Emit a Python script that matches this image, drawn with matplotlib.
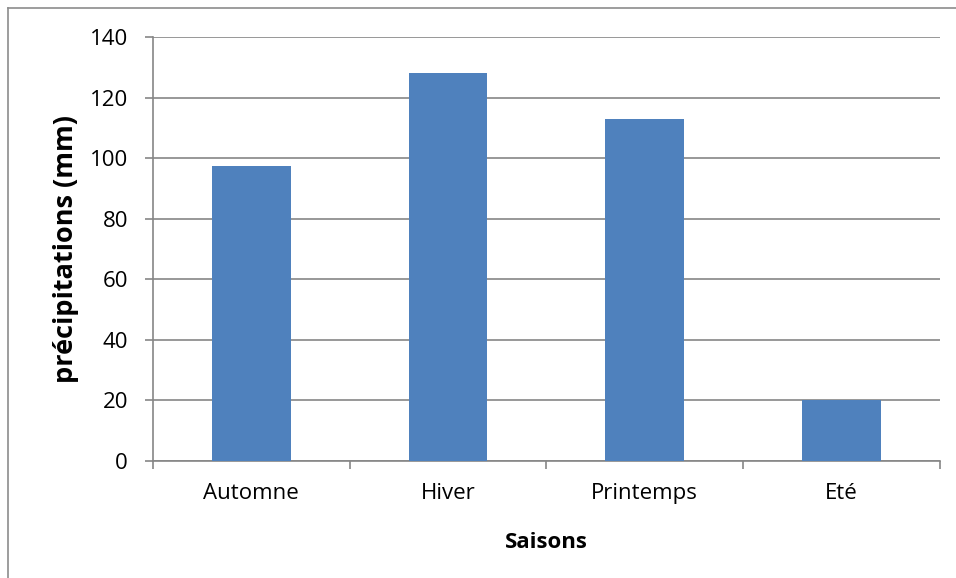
import matplotlib
matplotlib.use('Agg')
import matplotlib.pyplot as plt
import numpy as np

saisons = ['Automne', 'Hiver', 'Printemps', 'Eté']
precip = [97.5, 128, 113, 20]

bar_colour = '#4f81bd'
grid_colour = '#868686'

plt.rcParams['font.family'] = ['Open Sans', 'DejaVu Sans']

fig = plt.figure(figsize=(9.56, 5.78), dpi=100)
ax = fig.add_axes([0.16, 0.2024, 0.823, 0.7336])

x = np.arange(len(saisons))
ax.bar(x, precip, width=0.4, color=bar_colour, zorder=3)

ax.set_xlim(-0.5, len(saisons) - 0.5)
ax.set_ylim(0, 140)
ax.set_yticks(np.arange(0, 141, 20))
ax.set_xticks(x)
ax.set_xticklabels(saisons)
ax.set_xticks(np.arange(-0.5, len(saisons)), minor=True)

ax.yaxis.grid(True, color=grid_colour, linewidth=1.2, zorder=0)
for s in ['top', 'right']:
    ax.spines[s].set_visible(False)
for s in ['left', 'bottom']:
    ax.spines[s].set_color(grid_colour)
    ax.spines[s].set_linewidth(1.2)

ax.tick_params(axis='y', length=6, width=1.2, color=grid_colour, labelsize=16, pad=12)
ax.tick_params(axis='x', which='major', length=0, labelsize=16, pad=16)
ax.tick_params(axis='x', which='minor', length=6, width=1.2, color=grid_colour)

ax.set_ylabel('précipitations (mm)', fontsize=19.5, fontweight='bold', labelpad=8)
ax.set_xlabel('Saisons', fontsize=16, fontweight='bold', labelpad=20)

# outer chart border (cropped at right and bottom)
fig.add_artist(plt.Line2D([8 / 956, 8 / 956], [0, 1 - 8 / 578], color='#8c8c8c', linewidth=1.2))
fig.add_artist(plt.Line2D([8 / 956, 1], [1 - 8 / 578, 1 - 8 / 578], color='#8c8c8c', linewidth=1.2))

fig.savefig('out.png', dpi=100)
